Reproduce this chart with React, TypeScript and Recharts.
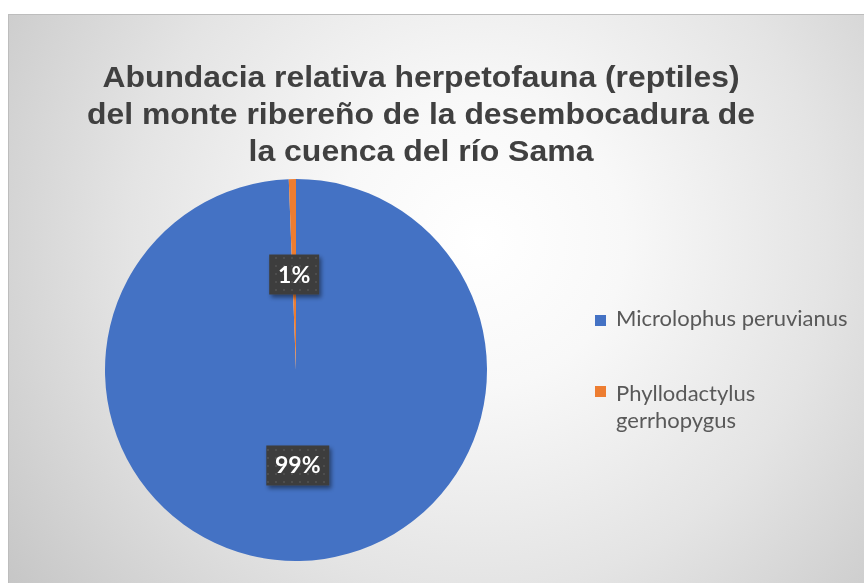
import React from 'react';
import { PieChart, Pie, Cell, Legend } from 'recharts';

const categories = ['Microlophus peruvianus', 'Phyllodactylus gerrhopygus'];
const values = [165, 1];
const colors = ['#4472C4', '#ED7D31'];
const legendLines = [['Microlophus peruvianus'], ['Phyllodactylus', 'gerrhopygus']];
const titleLines = [
  'Abundacia relativa herpetofauna (reptiles)',
  'del monte ribereño de la desembocadura de',
  'la cuenca del río Sama',
];

const data = categories.map((name, i) => ({ name, value: values[i] }));

const W = 856;
const H = 569;
const CX = 288;
const CY = 356;
const R = 191;

const titleWidths = [637, 668, 345];
const titleBaselines = [73, 109.5, 147];

const renderLabel = (props: any) => {
  const { cx, cy, midAngle, outerRadius, percent, index } = props;
  const RAD = Math.PI / 180;
  const r = outerRadius * 0.5;
  const x = cx + r * Math.cos(-midAngle * RAD);
  const y = cy + r * Math.sin(-midAngle * RAD);
  const text = `${Math.round(percent * 100)}%`;
  const w = 24 + 13 * text.length;
  const h = 40;
  const pid = `dots-${index}`;
  const fid = `shadow-${index}`;
  return (
    <g key={`lbl-${index}`}>
      <defs>
        <pattern id={pid} width="8" height="8" patternUnits="userSpaceOnUse">
          <rect width="8" height="8" fill="#3d3d3d" />
          <rect x="3" y="3" width="2" height="2" fill="#4e4e4e" />
        </pattern>
        <filter id={fid} x="-30%" y="-30%" width="160%" height="160%">
          <feDropShadow dx="2" dy="3" stdDeviation="2" floodColor="#000" floodOpacity="0.45" />
        </filter>
      </defs>
      <rect x={x - w / 2} y={y - h / 2} width={w} height={h} fill={`url(#${pid})`} filter={`url(#${fid})`} />
      <text
        x={x}
        y={y + 8}
        textAnchor="middle"
        fill="#ffffff"
        fontFamily="Lato, 'Open Sans', sans-serif"
        fontWeight="bold"
        fontSize={23}
      >
        {text}
      </text>
    </g>
  );
};

const renderLegend = () => (
  <svg width={270} height={150} style={{ display: 'block' }}>
    {legendLines.map((lines, i) => {
      const top = i === 0 ? 15 : 86;
      const base = i === 0 ? 26 : 101;
      return (
        <g key={i}>
          <rect x={8} y={top} width={11} height={11} fill={colors[i]} />
          {lines.map((ln, j) => (
            <text
              key={j}
              x={29}
              y={base + j * 27}
              fill="#595959"
              fontFamily="Lato, 'Open Sans', sans-serif"
              fontSize={22}
            >
              {ln}
            </text>
          ))}
        </g>
      );
    })}
  </svg>
);

export default function App() {
  return (
    <div
      style={{
        position: 'fixed',
        left: 8,
        top: 14,
        width: W,
        height: H,
        overflow: 'hidden',
        background:
          'radial-gradient(circle farthest-corner at 55% 40%, #ffffff 0%, #f8f8f8 25%, #e4e4e4 60%, #c6c6c6 100%)',
        boxShadow: 'inset 1px 1px 0 #bdbdbd',
      }}
    >
      <style>{`.recharts-pie-sectors { filter: drop-shadow(0 0 7px rgba(0,0,0,0.28)); }`}</style>
      <PieChart width={W} height={H} margin={{ top: 0, right: 0, bottom: 0, left: 0 }}>
        <Pie
          data={data}
          dataKey="value"
          nameKey="name"
          cx={CX}
          cy={CY}
          outerRadius={R}
          startAngle={90}
          endAngle={-270}
          stroke="none"
          labelLine={false}
          label={renderLabel}
          isAnimationActive={false}
        >
          {data.map((d, i) => (
            <Cell key={d.name} fill={colors[i]} />
          ))}
        </Pie>
        <Legend
          layout="vertical"
          align="right"
          verticalAlign="top"
          wrapperStyle={{ position: 'absolute', left: 579, top: 286, width: 270, height: 150 }}
          content={renderLegend}
        />
      </PieChart>
      <svg
        width={W}
        height={170}
        style={{ position: 'absolute', left: 0, top: 0, pointerEvents: 'none' }}
      >
        {titleLines.map((ln, i) => (
          <text
            key={i}
            x={413}
            y={titleBaselines[i]}
            textAnchor="middle"
            textLength={titleWidths[i]}
            lengthAdjust="spacingAndGlyphs"
            fill="#404040"
            fontFamily="'Liberation Sans', Arial, sans-serif"
            fontWeight="bold"
            fontSize={29}
          >
            {ln}
          </text>
        ))}
      </svg>
    </div>
  );
}
